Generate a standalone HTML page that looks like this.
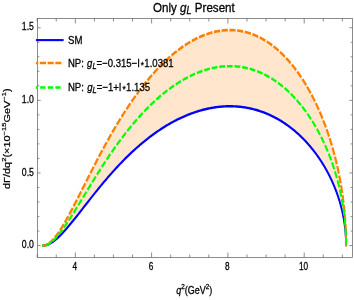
<!DOCTYPE html>
<html><head><meta charset="utf-8"><style>
html,body{margin:0;padding:0;background:#fff;}
svg{display:block;font-family:"Liberation Sans",sans-serif;font-size:11px;fill:#000;}
text{stroke:#000;stroke-width:0.3px;}
.i{font-style:italic}
</style></head><body>
<svg width="354" height="300" viewBox="0 0 354 300">
<rect width="354" height="300" fill="#fff"/>
<path d="M43.14,245.56 L44.66,245.39 L46.17,244.92 L47.68,244.16 L49.18,243.15 L50.68,241.91 L52.18,240.47 L53.68,238.85 L55.17,237.06 L56.65,235.12 L58.13,233.06 L59.61,230.87 L61.09,228.59 L62.56,226.21 L64.03,223.75 L65.49,221.23 L66.95,218.64 L68.40,216.01 L69.86,213.33 L71.30,210.61 L72.75,207.87 L74.19,205.10 L75.63,202.31 L77.06,199.51 L78.49,196.70 L79.91,193.89 L81.34,191.07 L82.75,188.26 L84.17,185.45 L85.58,182.66 L86.98,179.87 L88.39,177.10 L89.78,174.34 L91.18,171.60 L92.57,168.88 L93.96,166.18 L95.34,163.50 L96.72,160.85 L98.10,158.22 L99.47,155.61 L100.84,153.04 L102.20,150.49 L103.56,147.97 L104.92,145.47 L106.27,143.01 L107.62,140.58 L108.97,138.17 L110.31,135.80 L111.65,133.45 L112.98,131.14 L114.31,128.86 L115.64,126.61 L116.96,124.39 L118.28,122.20 L119.59,120.05 L120.90,117.92 L122.21,115.83 L123.51,113.76 L124.81,111.73 L126.11,109.73 L127.40,107.76 L128.69,105.82 L129.97,103.91 L131.25,102.03 L132.53,100.18 L133.80,98.36 L135.07,96.57 L136.34,94.81 L137.60,93.08 L138.86,91.38 L140.11,89.71 L141.36,88.07 L142.61,86.45 L143.85,84.87 L145.09,83.31 L146.33,81.77 L147.56,80.27 L148.78,78.79 L150.01,77.35 L151.23,75.92 L152.44,74.53 L153.66,73.16 L154.86,71.81 L156.07,70.49 L157.27,69.20 L158.47,67.93 L159.66,66.69 L160.85,65.47 L162.03,64.28 L163.22,63.11 L164.39,61.97 L165.57,60.85 L166.74,59.75 L167.91,58.67 L169.07,57.62 L170.23,56.60 L171.38,55.59 L172.53,54.61 L173.68,53.65 L174.82,52.71 L175.96,51.80 L177.10,50.90 L178.23,50.03 L179.36,49.18 L180.49,48.35 L181.61,47.54 L182.72,46.75 L183.84,45.98 L184.95,45.23 L186.05,44.51 L187.15,43.80 L188.25,43.11 L189.35,42.44 L190.44,41.80 L191.52,41.17 L192.61,40.56 L193.68,39.97 L194.76,39.39 L195.83,38.84 L196.90,38.30 L197.96,37.79 L199.02,37.29 L200.08,36.81 L201.13,36.35 L202.18,35.90 L203.22,35.47 L204.26,35.06 L205.30,34.67 L206.34,34.29 L207.36,33.94 L208.39,33.59 L209.41,33.27 L210.43,32.96 L211.44,32.67 L212.46,32.39 L213.46,32.13 L214.46,31.89 L215.46,31.66 L216.46,31.45 L217.45,31.25 L218.44,31.07 L219.42,30.90 L220.40,30.75 L221.38,30.62 L222.35,30.50 L223.32,30.39 L224.28,30.30 L225.24,30.22 L226.20,30.16 L227.16,30.12 L228.10,30.08 L229.05,30.06 L229.99,30.06 L230.93,30.07 L231.87,30.09 L232.80,30.13 L233.72,30.18 L234.65,30.24 L235.56,30.32 L236.48,30.41 L237.39,30.51 L238.30,30.63 L239.20,30.76 L240.10,30.90 L241.00,31.05 L241.89,31.22 L242.78,31.40 L243.67,31.59 L244.55,31.80 L245.42,32.02 L246.30,32.24 L247.17,32.49 L248.03,32.74 L248.89,33.00 L249.75,33.28 L250.61,33.57 L251.46,33.87 L252.30,34.18 L253.15,34.50 L253.99,34.83 L254.82,35.18 L255.65,35.53 L256.48,35.90 L257.31,36.27 L258.13,36.66 L258.94,37.06 L259.75,37.47 L260.56,37.89 L261.37,38.32 L262.17,38.76 L262.97,39.21 L263.76,39.66 L264.55,40.13 L265.34,40.61 L266.12,41.10 L266.90,41.60 L267.67,42.11 L268.44,42.63 L269.21,43.16 L269.97,43.69 L270.73,44.24 L271.49,44.79 L272.24,45.36 L272.99,45.93 L273.73,46.51 L274.47,47.10 L275.21,47.70 L275.94,48.31 L276.67,48.92 L277.39,49.55 L278.11,50.18 L278.83,50.82 L279.54,51.47 L280.25,52.13 L280.96,52.80 L281.66,53.47 L282.36,54.15 L283.06,54.84 L283.75,55.54 L284.43,56.24 L285.12,56.95 L285.80,57.67 L286.47,58.40 L287.14,59.13 L287.81,59.87 L288.48,60.62 L289.14,61.37 L289.79,62.13 L290.44,62.90 L291.09,63.68 L291.74,64.46 L292.38,65.25 L293.02,66.04 L293.65,66.84 L294.28,67.65 L294.91,68.47 L295.53,69.29 L296.15,70.11 L296.76,70.95 L297.37,71.78 L297.98,72.63 L298.58,73.48 L299.18,74.34 L299.78,75.20 L300.37,76.06 L300.96,76.94 L301.54,77.82 L302.12,78.70 L302.70,79.59 L303.27,80.48 L303.84,81.38 L304.41,82.29 L304.97,83.20 L305.53,84.11 L306.08,85.03 L306.63,85.96 L307.18,86.89 L307.72,87.82 L308.26,88.76 L308.79,89.71 L309.32,90.65 L309.85,91.61 L310.37,92.56 L310.89,93.53 L311.41,94.49 L311.92,95.46 L312.43,96.44 L312.93,97.41 L313.43,98.40 L313.93,99.38 L314.42,100.37 L314.91,101.37 L315.40,102.37 L315.88,103.37 L316.36,104.37 L316.83,105.38 L317.30,106.40 L317.77,107.41 L318.23,108.43 L318.69,109.46 L319.14,110.48 L319.59,111.51 L320.04,112.55 L320.48,113.58 L320.92,114.62 L321.36,115.67 L321.79,116.71 L322.22,117.76 L322.64,118.81 L323.06,119.87 L323.48,120.93 L323.89,121.99 L324.30,123.05 L324.71,124.12 L325.11,125.18 L325.51,126.26 L325.90,127.33 L326.29,128.41 L326.68,129.49 L327.06,130.57 L327.44,131.65 L327.81,132.74 L328.18,133.83 L328.55,134.92 L328.91,136.01 L329.27,137.11 L329.63,138.20 L329.98,139.30 L330.33,140.40 L330.67,141.51 L331.02,142.61 L331.35,143.72 L331.69,144.83 L332.01,145.94 L332.34,147.06 L332.66,148.17 L332.98,149.29 L333.29,150.41 L333.60,151.53 L333.91,152.65 L334.21,153.77 L334.51,154.90 L334.81,156.03 L335.10,157.16 L335.38,158.29 L335.67,159.42 L335.95,160.55 L336.22,161.69 L336.50,162.82 L336.76,163.96 L337.03,165.10 L337.29,166.24 L337.55,167.38 L337.80,168.52 L338.05,169.66 L338.29,170.81 L338.54,171.96 L338.77,173.10 L339.01,174.25 L339.24,175.40 L339.46,176.55 L339.69,177.70 L339.91,178.86 L340.12,180.01 L340.33,181.16 L340.54,182.32 L340.74,183.47 L340.94,184.63 L341.14,185.79 L341.33,186.95 L341.52,188.11 L341.70,189.27 L341.89,190.43 L342.06,191.59 L342.24,192.76 L342.40,193.92 L342.57,195.08 L342.73,196.25 L342.89,197.41 L343.04,198.58 L343.19,199.75 L343.34,200.91 L343.48,202.08 L343.62,203.25 L343.76,204.42 L343.89,205.59 L344.02,206.76 L344.14,207.93 L344.26,209.10 L344.38,210.27 L344.49,211.45 L344.60,212.62 L344.70,213.79 L344.80,214.97 L344.90,216.14 L344.99,217.31 L345.08,218.49 L345.17,219.66 L345.25,220.84 L345.33,222.01 L345.40,223.19 L345.47,224.36 L345.54,225.54 L345.60,226.72 L345.66,227.89 L345.72,229.07 L345.77,230.25 L345.81,231.42 L345.86,232.60 L345.90,233.78 L345.93,234.96 L345.97,236.13 L346.00,237.31 L346.02,238.49 L346.04,239.67 L346.06,240.85 L346.07,242.03 L346.08,243.20 L346.09,244.38 L346.09,245.56 L346.09,245.56 L346.09,244.80 L346.08,244.04 L346.07,243.28 L346.06,242.51 L346.04,241.75 L346.02,240.99 L346.00,240.23 L345.97,239.47 L345.93,238.71 L345.90,237.94 L345.86,237.18 L345.81,236.42 L345.77,235.66 L345.72,234.90 L345.66,234.14 L345.60,233.38 L345.54,232.62 L345.47,231.86 L345.40,231.10 L345.33,230.34 L345.25,229.58 L345.17,228.82 L345.08,228.06 L344.99,227.30 L344.90,226.54 L344.80,225.78 L344.70,225.02 L344.60,224.27 L344.49,223.51 L344.38,222.75 L344.26,221.99 L344.14,221.24 L344.02,220.48 L343.89,219.72 L343.76,218.97 L343.62,218.21 L343.48,217.46 L343.34,216.70 L343.19,215.95 L343.04,215.19 L342.89,214.44 L342.73,213.68 L342.57,212.93 L342.40,212.18 L342.24,211.43 L342.06,210.67 L341.89,209.92 L341.70,209.17 L341.52,208.42 L341.33,207.67 L341.14,206.92 L340.94,206.18 L340.74,205.43 L340.54,204.68 L340.33,203.93 L340.12,203.19 L339.91,202.44 L339.69,201.70 L339.46,200.95 L339.24,200.21 L339.01,199.47 L338.77,198.72 L338.54,197.98 L338.29,197.24 L338.05,196.50 L337.80,195.76 L337.55,195.02 L337.29,194.28 L337.03,193.55 L336.76,192.81 L336.50,192.08 L336.22,191.34 L335.95,190.61 L335.67,189.88 L335.38,189.15 L335.10,188.41 L334.81,187.68 L334.51,186.96 L334.21,186.23 L333.91,185.50 L333.60,184.78 L333.29,184.05 L332.98,183.33 L332.66,182.61 L332.34,181.89 L332.01,181.17 L331.69,180.45 L331.35,179.73 L331.02,179.01 L330.67,178.30 L330.33,177.59 L329.98,176.87 L329.63,176.16 L329.27,175.45 L328.91,174.75 L328.55,174.04 L328.18,173.33 L327.81,172.63 L327.44,171.93 L327.06,171.23 L326.68,170.53 L326.29,169.83 L325.90,169.13 L325.51,168.44 L325.11,167.75 L324.71,167.06 L324.30,166.37 L323.89,165.68 L323.48,164.99 L323.06,164.31 L322.64,163.63 L322.22,162.95 L321.79,162.27 L321.36,161.59 L320.92,160.92 L320.48,160.25 L320.04,159.58 L319.59,158.91 L319.14,158.24 L318.69,157.58 L318.23,156.92 L317.77,156.26 L317.30,155.60 L316.83,154.95 L316.36,154.30 L315.88,153.65 L315.40,153.00 L314.91,152.35 L314.42,151.71 L313.93,151.07 L313.43,150.43 L312.93,149.80 L312.43,149.16 L311.92,148.53 L311.41,147.91 L310.89,147.28 L310.37,146.66 L309.85,146.04 L309.32,145.43 L308.79,144.81 L308.26,144.20 L307.72,143.60 L307.18,142.99 L306.63,142.39 L306.08,141.79 L305.53,141.20 L304.97,140.61 L304.41,140.02 L303.84,139.43 L303.27,138.85 L302.70,138.27 L302.12,137.70 L301.54,137.13 L300.96,136.56 L300.37,136.00 L299.78,135.44 L299.18,134.88 L298.58,134.32 L297.98,133.77 L297.37,133.23 L296.76,132.69 L296.15,132.15 L295.53,131.61 L294.91,131.08 L294.28,130.56 L293.65,130.04 L293.02,129.52 L292.38,129.00 L291.74,128.49 L291.09,127.99 L290.44,127.49 L289.79,126.99 L289.14,126.50 L288.48,126.01 L287.81,125.53 L287.14,125.05 L286.47,124.57 L285.80,124.11 L285.12,123.64 L284.43,123.18 L283.75,122.73 L283.06,122.28 L282.36,121.83 L281.66,121.39 L280.96,120.95 L280.25,120.52 L279.54,120.10 L278.83,119.68 L278.11,119.27 L277.39,118.86 L276.67,118.45 L275.94,118.05 L275.21,117.66 L274.47,117.27 L273.73,116.89 L272.99,116.52 L272.24,116.15 L271.49,115.78 L270.73,115.42 L269.97,115.07 L269.21,114.72 L268.44,114.38 L267.67,114.05 L266.90,113.72 L266.12,113.40 L265.34,113.08 L264.55,112.77 L263.76,112.47 L262.97,112.17 L262.17,111.88 L261.37,111.59 L260.56,111.32 L259.75,111.05 L258.94,110.78 L258.13,110.53 L257.31,110.27 L256.48,110.03 L255.65,109.79 L254.82,109.56 L253.99,109.34 L253.15,109.13 L252.30,108.92 L251.46,108.72 L250.61,108.52 L249.75,108.34 L248.89,108.16 L248.03,107.99 L247.17,107.83 L246.30,107.67 L245.42,107.52 L244.55,107.38 L243.67,107.25 L242.78,107.13 L241.89,107.01 L241.00,106.90 L240.10,106.80 L239.20,106.71 L238.30,106.63 L237.39,106.55 L236.48,106.48 L235.56,106.42 L234.65,106.38 L233.72,106.33 L232.80,106.30 L231.87,106.28 L230.93,106.26 L229.99,106.26 L229.05,106.26 L228.10,106.27 L227.16,106.29 L226.20,106.32 L225.24,106.36 L224.28,106.41 L223.32,106.47 L222.35,106.54 L221.38,106.62 L220.40,106.71 L219.42,106.80 L218.44,106.91 L217.45,107.03 L216.46,107.16 L215.46,107.29 L214.46,107.44 L213.46,107.60 L212.46,107.77 L211.44,107.94 L210.43,108.13 L209.41,108.33 L208.39,108.54 L207.36,108.76 L206.34,109.00 L205.30,109.24 L204.26,109.49 L203.22,109.76 L202.18,110.03 L201.13,110.32 L200.08,110.62 L199.02,110.93 L197.96,111.25 L196.90,111.59 L195.83,111.93 L194.76,112.29 L193.68,112.66 L192.61,113.04 L191.52,113.44 L190.44,113.84 L189.35,114.26 L188.25,114.70 L187.15,115.14 L186.05,115.60 L184.95,116.07 L183.84,116.55 L182.72,117.05 L181.61,117.56 L180.49,118.08 L179.36,118.62 L178.23,119.17 L177.10,119.73 L175.96,120.31 L174.82,120.90 L173.68,121.51 L172.53,122.13 L171.38,122.76 L170.23,123.41 L169.07,124.08 L167.91,124.75 L166.74,125.45 L165.57,126.16 L164.39,126.88 L163.22,127.62 L162.03,128.38 L160.85,129.15 L159.66,129.94 L158.47,130.74 L157.27,131.56 L156.07,132.39 L154.86,133.25 L153.66,134.12 L152.44,135.00 L151.23,135.90 L150.01,136.82 L148.78,137.76 L147.56,138.72 L146.33,139.69 L145.09,140.68 L143.85,141.68 L142.61,142.71 L141.36,143.75 L140.11,144.82 L138.86,145.90 L137.60,147.00 L136.34,148.12 L135.07,149.25 L133.80,150.41 L132.53,151.59 L131.25,152.78 L129.97,154.00 L128.69,155.23 L127.40,156.48 L126.11,157.76 L124.81,159.05 L123.51,160.36 L122.21,161.70 L120.90,163.05 L119.59,164.43 L118.28,165.82 L116.96,167.23 L115.64,168.67 L114.31,170.12 L112.98,171.60 L111.65,173.09 L110.31,174.61 L108.97,176.14 L107.62,177.70 L106.27,179.27 L104.92,180.86 L103.56,182.47 L102.20,184.10 L100.84,185.75 L99.47,187.42 L98.10,189.10 L96.72,190.80 L95.34,192.52 L93.96,194.25 L92.57,195.99 L91.18,197.75 L89.78,199.52 L88.39,201.30 L86.98,203.10 L85.58,204.90 L84.17,206.71 L82.75,208.52 L81.34,210.34 L79.91,212.16 L78.49,213.98 L77.06,215.79 L75.63,217.60 L74.19,219.41 L72.75,221.20 L71.30,222.97 L69.86,224.73 L68.40,226.46 L66.95,228.16 L65.49,229.83 L64.03,231.46 L62.56,233.05 L61.09,234.59 L59.61,236.07 L58.13,237.48 L56.65,238.81 L55.17,240.06 L53.68,241.22 L52.18,242.27 L50.68,243.20 L49.18,244.00 L47.68,244.66 L46.17,245.14 L44.66,245.45 L43.14,245.56Z" fill="#FFE6CC" stroke="none"/>
<g transform="scale(0.79,1)">
<path d="M53.67,245.56 L54.61,245.56 L56.53,245.45 L58.44,245.14 L60.35,244.66 L62.26,244.00 L64.16,243.20 L66.05,242.27 L67.94,241.22 L69.83,240.06 L71.71,238.81 L73.59,237.48 L75.46,236.07 L77.33,234.59 L79.19,233.05 L81.05,231.46 L82.90,229.83 L84.75,228.16 L86.59,226.46 L88.43,224.73 L90.26,222.97 L92.09,221.20 L93.91,219.41 L95.73,217.60 L97.54,215.79 L99.35,213.98 L101.16,212.16 L102.96,210.34 L104.75,208.52 L106.54,206.71 L108.33,204.90 L110.11,203.10 L111.88,201.30 L113.65,199.52 L115.42,197.75 L117.18,195.99 L118.93,194.25 L120.68,192.52 L122.43,190.80 L124.17,189.10 L125.91,187.42 L127.64,185.75 L129.37,184.10 L131.09,182.47 L132.81,180.86 L134.52,179.27 L136.23,177.70 L137.93,176.14 L139.63,174.61 L141.32,173.09 L143.01,171.60 L144.70,170.12 L146.37,168.67 L148.05,167.23 L149.72,165.82 L151.38,164.43 L153.04,163.05 L154.70,161.70 L156.35,160.36 L157.99,159.05 L159.63,157.76 L161.27,156.48 L162.90,155.23 L164.52,154.00 L166.15,152.78 L167.76,151.59 L169.37,150.41 L170.98,149.25 L172.58,148.12 L174.18,147.00 L175.77,145.90 L177.36,144.82 L178.94,143.75 L180.52,142.71 L182.09,141.68 L183.66,140.68 L185.22,139.69 L186.78,138.72 L188.34,137.76 L189.88,136.82 L191.43,135.90 L192.97,135.00 L194.50,134.12 L196.03,133.25 L197.56,132.39 L199.08,131.56 L200.59,130.74 L202.10,129.94 L203.61,129.15 L205.11,128.38 L206.60,127.62 L208.09,126.88 L209.58,126.16 L211.06,125.45 L212.54,124.75 L214.01,124.08 L215.48,123.41 L216.94,122.76 L218.40,122.13 L219.85,121.51 L221.30,120.90 L222.74,120.31 L224.18,119.73 L225.61,119.17 L227.04,118.62 L228.46,118.08 L229.88,117.56 L231.30,117.05 L232.70,116.55 L234.11,116.07 L235.51,115.60 L236.90,115.14 L238.29,114.70 L239.68,114.26 L241.06,113.84 L242.43,113.44 L243.80,113.04 L245.17,112.66 L246.53,112.29 L247.89,111.93 L249.24,111.59 L250.59,111.25 L251.93,110.93 L253.26,110.62 L254.60,110.32 L255.92,110.03 L257.25,109.76 L258.56,109.49 L259.88,109.24 L261.18,109.00 L262.49,108.76 L263.79,108.54 L265.08,108.33 L266.37,108.13 L267.65,107.94 L268.93,107.77 L270.20,107.60 L271.47,107.44 L272.74,107.29 L274.00,107.16 L275.25,107.03 L276.50,106.91 L277.75,106.80 L278.99,106.71 L280.23,106.62 L281.46,106.54 L282.68,106.47 L283.90,106.41 L285.12,106.36 L286.33,106.32 L287.54,106.29 L288.74,106.27 L289.94,106.26 L291.13,106.26 L292.32,106.26 L293.50,106.28 L294.68,106.30 L295.85,106.33 L297.02,106.38 L298.18,106.42 L299.34,106.48 L300.50,106.55 L301.64,106.63 L302.79,106.71 L303.93,106.80 L305.06,106.90 L306.19,107.01 L307.32,107.13 L308.44,107.25 L309.55,107.38 L310.66,107.52 L311.77,107.67 L312.87,107.83 L313.97,107.99 L315.06,108.16 L316.14,108.34 L317.22,108.52 L318.30,108.72 L319.37,108.92 L320.44,109.13 L321.50,109.34 L322.56,109.56 L323.61,109.79 L324.66,110.03 L325.70,110.27 L326.74,110.53 L327.77,110.78 L328.80,111.05 L329.83,111.32 L330.85,111.59 L331.86,111.88 L332.87,112.17 L333.87,112.47 L334.87,112.77 L335.87,113.08 L336.86,113.40 L337.84,113.72 L338.82,114.05 L339.80,114.38 L340.77,114.72 L341.74,115.07 L342.70,115.42 L343.65,115.78 L344.60,116.15 L345.55,116.52 L346.49,116.89 L347.43,117.27 L348.36,117.66 L349.29,118.05 L350.21,118.45 L351.13,118.86 L352.04,119.27 L352.95,119.68 L353.85,120.10 L354.75,120.52 L355.65,120.95 L356.54,121.39 L357.42,121.83 L358.30,122.28 L359.17,122.73 L360.04,123.18 L360.91,123.64 L361.77,124.11 L362.62,124.57 L363.47,125.05 L364.32,125.53 L365.16,126.01 L365.99,126.50 L366.83,126.99 L367.65,127.49 L368.47,127.99 L369.29,128.49 L370.10,129.00 L370.91,129.52 L371.71,130.04 L372.51,130.56 L373.30,131.08 L374.09,131.61 L374.87,132.15 L375.65,132.69 L376.42,133.23 L377.19,133.77 L377.95,134.32 L378.71,134.88 L379.47,135.44 L380.22,136.00 L380.96,136.56 L381.70,137.13 L382.43,137.70 L383.16,138.27 L383.89,138.85 L384.61,139.43 L385.33,140.02 L386.04,140.61 L386.74,141.20 L387.44,141.79 L388.14,142.39 L388.83,142.99 L389.52,143.60 L390.20,144.20 L390.87,144.81 L391.55,145.43 L392.21,146.04 L392.88,146.66 L393.53,147.28 L394.19,147.91 L394.83,148.53 L395.48,149.16 L396.12,149.80 L396.75,150.43 L397.38,151.07 L398.00,151.71 L398.62,152.35 L399.24,153.00 L399.85,153.65 L400.45,154.30 L401.05,154.95 L401.64,155.60 L402.23,156.26 L402.82,156.92 L403.40,157.58 L403.98,158.24 L404.55,158.91 L405.11,159.58 L405.67,160.25 L406.23,160.92 L406.78,161.59 L407.33,162.27 L407.87,162.95 L408.41,163.63 L408.94,164.31 L409.47,164.99 L409.99,165.68 L410.51,166.37 L411.02,167.06 L411.53,167.75 L412.03,168.44 L412.53,169.13 L413.03,169.83 L413.52,170.53 L414.00,171.23 L414.48,171.93 L414.95,172.63 L415.42,173.33 L415.89,174.04 L416.35,174.75 L416.80,175.45 L417.25,176.16 L417.70,176.87 L418.14,177.59 L418.58,178.30 L419.01,179.01 L419.43,179.73 L419.85,180.45 L420.27,181.17 L420.68,181.89 L421.09,182.61 L421.49,183.33 L421.89,184.05 L422.28,184.78 L422.67,185.50 L423.05,186.23 L423.43,186.96 L423.81,187.68 L424.17,188.41 L424.54,189.15 L424.90,189.88 L425.25,190.61 L425.60,191.34 L425.94,192.08 L426.28,192.81 L426.62,193.55 L426.95,194.28 L427.27,195.02 L427.59,195.76 L427.91,196.50 L428.22,197.24 L428.53,197.98 L428.83,198.72 L429.12,199.47 L429.42,200.21 L429.70,200.95 L429.98,201.70 L430.26,202.44 L430.53,203.19 L430.80,203.93 L431.06,204.68 L431.32,205.43 L431.57,206.18 L431.82,206.92 L432.07,207.67 L432.30,208.42 L432.54,209.17 L432.77,209.92 L432.99,210.67 L433.21,211.43 L433.42,212.18 L433.63,212.93 L433.84,213.68 L434.04,214.44 L434.23,215.19 L434.42,215.95 L434.61,216.70 L434.79,217.46 L434.97,218.21 L435.14,218.97 L435.30,219.72 L435.46,220.48 L435.62,221.24 L435.77,221.99 L435.92,222.75 L436.06,223.51 L436.20,224.27 L436.33,225.02 L436.46,225.78 L436.58,226.54 L436.70,227.30 L436.81,228.06 L436.92,228.82 L437.02,229.58 L437.12,230.34 L437.22,231.10 L437.31,231.86 L437.39,232.62 L437.47,233.38 L437.54,234.14 L437.61,234.90 L437.68,235.66 L437.74,236.42 L437.80,237.18 L437.85,237.94 L437.89,238.71 L437.93,239.47 L437.97,240.23 L438.00,240.99 L438.03,241.75 L438.05,242.51 L438.07,243.28 L438.08,244.04 L438.08,244.80 L438.09,245.56 L438.09,246.36" fill="none" stroke="#0000FF" stroke-width="2.4" stroke-linejoin="round"/>
<path d="M53.67,245.56 L54.61,245.56 L56.53,245.39 L58.44,244.92 L60.35,244.16 L62.26,243.15 L64.16,241.91 L66.05,240.47 L67.94,238.85 L69.83,237.06 L71.71,235.12 L73.59,233.06 L75.46,230.87 L77.33,228.59 L79.19,226.21 L81.05,223.75 L82.90,221.23 L84.75,218.64 L86.59,216.01 L88.43,213.33 L90.26,210.61 L92.09,207.87 L93.91,205.10 L95.73,202.31 L97.54,199.51 L99.35,196.70 L101.16,193.89 L102.96,191.07 L104.75,188.26 L106.54,185.45 L108.33,182.66 L110.11,179.87 L111.88,177.10 L113.65,174.34 L115.42,171.60 L117.18,168.88 L118.93,166.18 L120.68,163.50 L122.43,160.85 L124.17,158.22 L125.91,155.61 L127.64,153.04 L129.37,150.49 L131.09,147.97 L132.81,145.47 L134.52,143.01 L136.23,140.58 L137.93,138.17 L139.63,135.80 L141.32,133.45 L143.01,131.14 L144.70,128.86 L146.37,126.61 L148.05,124.39 L149.72,122.20 L151.38,120.05 L153.04,117.92 L154.70,115.83 L156.35,113.76 L157.99,111.73 L159.63,109.73 L161.27,107.76 L162.90,105.82 L164.52,103.91 L166.15,102.03 L167.76,100.18 L169.37,98.36 L170.98,96.57 L172.58,94.81 L174.18,93.08 L175.77,91.38 L177.36,89.71 L178.94,88.07 L180.52,86.45 L182.09,84.87 L183.66,83.31 L185.22,81.77 L186.78,80.27 L188.34,78.79 L189.88,77.35 L191.43,75.92 L192.97,74.53 L194.50,73.16 L196.03,71.81 L197.56,70.49 L199.08,69.20 L200.59,67.93 L202.10,66.69 L203.61,65.47 L205.11,64.28 L206.60,63.11 L208.09,61.97 L209.58,60.85 L211.06,59.75 L212.54,58.67 L214.01,57.62 L215.48,56.60 L216.94,55.59 L218.40,54.61 L219.85,53.65 L221.30,52.71 L222.74,51.80 L224.18,50.90 L225.61,50.03 L227.04,49.18 L228.46,48.35 L229.88,47.54 L231.30,46.75 L232.70,45.98 L234.11,45.23 L235.51,44.51 L236.90,43.80 L238.29,43.11 L239.68,42.44 L241.06,41.80 L242.43,41.17 L243.80,40.56 L245.17,39.97 L246.53,39.39 L247.89,38.84 L249.24,38.30 L250.59,37.79 L251.93,37.29 L253.26,36.81 L254.60,36.35 L255.92,35.90 L257.25,35.47 L258.56,35.06 L259.88,34.67 L261.18,34.29 L262.49,33.94 L263.79,33.59 L265.08,33.27 L266.37,32.96 L267.65,32.67 L268.93,32.39 L270.20,32.13 L271.47,31.89 L272.74,31.66 L274.00,31.45 L275.25,31.25 L276.50,31.07 L277.75,30.90 L278.99,30.75 L280.23,30.62 L281.46,30.50 L282.68,30.39 L283.90,30.30 L285.12,30.22 L286.33,30.16 L287.54,30.12 L288.74,30.08 L289.94,30.06 L291.13,30.06 L292.32,30.07 L293.50,30.09 L294.68,30.13 L295.85,30.18 L297.02,30.24 L298.18,30.32 L299.34,30.41 L300.50,30.51 L301.64,30.63 L302.79,30.76 L303.93,30.90 L305.06,31.05 L306.19,31.22 L307.32,31.40 L308.44,31.59 L309.55,31.80 L310.66,32.02 L311.77,32.24 L312.87,32.49 L313.97,32.74 L315.06,33.00 L316.14,33.28 L317.22,33.57 L318.30,33.87 L319.37,34.18 L320.44,34.50 L321.50,34.83 L322.56,35.18 L323.61,35.53 L324.66,35.90 L325.70,36.27 L326.74,36.66 L327.77,37.06 L328.80,37.47 L329.83,37.89 L330.85,38.32 L331.86,38.76 L332.87,39.21 L333.87,39.66 L334.87,40.13 L335.87,40.61 L336.86,41.10 L337.84,41.60 L338.82,42.11 L339.80,42.63 L340.77,43.16 L341.74,43.69 L342.70,44.24 L343.65,44.79 L344.60,45.36 L345.55,45.93 L346.49,46.51 L347.43,47.10 L348.36,47.70 L349.29,48.31 L350.21,48.92 L351.13,49.55 L352.04,50.18 L352.95,50.82 L353.85,51.47 L354.75,52.13 L355.65,52.80 L356.54,53.47 L357.42,54.15 L358.30,54.84 L359.17,55.54 L360.04,56.24 L360.91,56.95 L361.77,57.67 L362.62,58.40 L363.47,59.13 L364.32,59.87 L365.16,60.62 L365.99,61.37 L366.83,62.13 L367.65,62.90 L368.47,63.68 L369.29,64.46 L370.10,65.25 L370.91,66.04 L371.71,66.84 L372.51,67.65 L373.30,68.47 L374.09,69.29 L374.87,70.11 L375.65,70.95 L376.42,71.78 L377.19,72.63 L377.95,73.48 L378.71,74.34 L379.47,75.20 L380.22,76.06 L380.96,76.94 L381.70,77.82 L382.43,78.70 L383.16,79.59 L383.89,80.48 L384.61,81.38 L385.33,82.29 L386.04,83.20 L386.74,84.11 L387.44,85.03 L388.14,85.96 L388.83,86.89 L389.52,87.82 L390.20,88.76 L390.87,89.71 L391.55,90.65 L392.21,91.61 L392.88,92.56 L393.53,93.53 L394.19,94.49 L394.83,95.46 L395.48,96.44 L396.12,97.41 L396.75,98.40 L397.38,99.38 L398.00,100.37 L398.62,101.37 L399.24,102.37 L399.85,103.37 L400.45,104.37 L401.05,105.38 L401.64,106.40 L402.23,107.41 L402.82,108.43 L403.40,109.46 L403.98,110.48 L404.55,111.51 L405.11,112.55 L405.67,113.58 L406.23,114.62 L406.78,115.67 L407.33,116.71 L407.87,117.76 L408.41,118.81 L408.94,119.87 L409.47,120.93 L409.99,121.99 L410.51,123.05 L411.02,124.12 L411.53,125.18 L412.03,126.26 L412.53,127.33 L413.03,128.41 L413.52,129.49 L414.00,130.57 L414.48,131.65 L414.95,132.74 L415.42,133.83 L415.89,134.92 L416.35,136.01 L416.80,137.11 L417.25,138.20 L417.70,139.30 L418.14,140.40 L418.58,141.51 L419.01,142.61 L419.43,143.72 L419.85,144.83 L420.27,145.94 L420.68,147.06 L421.09,148.17 L421.49,149.29 L421.89,150.41 L422.28,151.53 L422.67,152.65 L423.05,153.77 L423.43,154.90 L423.81,156.03 L424.17,157.16 L424.54,158.29 L424.90,159.42 L425.25,160.55 L425.60,161.69 L425.94,162.82 L426.28,163.96 L426.62,165.10 L426.95,166.24 L427.27,167.38 L427.59,168.52 L427.91,169.66 L428.22,170.81 L428.53,171.96 L428.83,173.10 L429.12,174.25 L429.42,175.40 L429.70,176.55 L429.98,177.70 L430.26,178.86 L430.53,180.01 L430.80,181.16 L431.06,182.32 L431.32,183.47 L431.57,184.63 L431.82,185.79 L432.07,186.95 L432.30,188.11 L432.54,189.27 L432.77,190.43 L432.99,191.59 L433.21,192.76 L433.42,193.92 L433.63,195.08 L433.84,196.25 L434.04,197.41 L434.23,198.58 L434.42,199.75 L434.61,200.91 L434.79,202.08 L434.97,203.25 L435.14,204.42 L435.30,205.59 L435.46,206.76 L435.62,207.93 L435.77,209.10 L435.92,210.27 L436.06,211.45 L436.20,212.62 L436.33,213.79 L436.46,214.97 L436.58,216.14 L436.70,217.31 L436.81,218.49 L436.92,219.66 L437.02,220.84 L437.12,222.01 L437.22,223.19 L437.31,224.36 L437.39,225.54 L437.47,226.72 L437.54,227.89 L437.61,229.07 L437.68,230.25 L437.74,231.42 L437.80,232.60 L437.85,233.78 L437.89,234.96 L437.93,236.13 L437.97,237.31 L438.00,238.49 L438.03,239.67 L438.05,240.85 L438.07,242.03 L438.08,243.20 L438.08,244.38 L438.09,245.56 L438.09,246.36" fill="none" stroke="#FF8000" stroke-width="2.7" stroke-dasharray="7.79 2.045" stroke-dashoffset="1.6" stroke-linejoin="round"/>
<path d="M53.67,245.56 L54.61,245.56 L56.53,245.42 L58.44,245.03 L60.35,244.40 L62.26,243.55 L64.16,242.53 L66.05,241.32 L67.94,239.97 L69.83,238.48 L71.71,236.87 L73.59,235.15 L75.46,233.33 L77.33,231.43 L79.19,229.45 L81.05,227.41 L82.90,225.30 L84.75,223.15 L86.59,220.96 L88.43,218.72 L90.26,216.46 L92.09,214.18 L93.91,211.87 L95.73,209.55 L97.54,207.22 L99.35,204.88 L101.16,202.54 L102.96,200.19 L104.75,197.85 L106.54,195.52 L108.33,193.19 L110.11,190.87 L111.88,188.56 L113.65,186.26 L115.42,183.98 L117.18,181.72 L118.93,179.47 L120.68,177.24 L122.43,175.03 L124.17,172.84 L125.91,170.67 L127.64,168.53 L129.37,166.41 L131.09,164.31 L132.81,162.23 L134.52,160.18 L136.23,158.15 L137.93,156.15 L139.63,154.17 L141.32,152.22 L143.01,150.30 L144.70,148.40 L146.37,146.52 L148.05,144.68 L149.72,142.86 L151.38,141.06 L153.04,139.29 L154.70,137.55 L156.35,135.83 L157.99,134.14 L159.63,132.47 L161.27,130.83 L162.90,129.21 L164.52,127.62 L166.15,126.06 L167.76,124.52 L169.37,123.01 L170.98,121.52 L172.58,120.05 L174.18,118.61 L175.77,117.20 L177.36,115.80 L178.94,114.43 L180.52,113.09 L182.09,111.77 L183.66,110.47 L185.22,109.20 L186.78,107.94 L188.34,106.71 L189.88,105.51 L191.43,104.32 L192.97,103.16 L194.50,102.02 L196.03,100.90 L197.56,99.80 L199.08,98.73 L200.59,97.67 L202.10,96.64 L203.61,95.62 L205.11,94.63 L206.60,93.66 L208.09,92.70 L209.58,91.77 L211.06,90.86 L212.54,89.96 L214.01,89.09 L215.48,88.23 L216.94,87.40 L218.40,86.58 L219.85,85.78 L221.30,85.00 L222.74,84.24 L224.18,83.49 L225.61,82.76 L227.04,82.06 L228.46,81.37 L229.88,80.69 L231.30,80.03 L232.70,79.40 L234.11,78.77 L235.51,78.17 L236.90,77.58 L238.29,77.01 L239.68,76.45 L241.06,75.91 L242.43,75.39 L243.80,74.88 L245.17,74.39 L246.53,73.91 L247.89,73.45 L249.24,73.00 L250.59,72.57 L251.93,72.16 L253.26,71.76 L254.60,71.37 L255.92,71.00 L257.25,70.65 L258.56,70.30 L259.88,69.98 L261.18,69.67 L262.49,69.37 L263.79,69.08 L265.08,68.81 L266.37,68.55 L267.65,68.31 L268.93,68.08 L270.20,67.86 L271.47,67.66 L272.74,67.47 L274.00,67.29 L275.25,67.13 L276.50,66.98 L277.75,66.84 L278.99,66.72 L280.23,66.60 L281.46,66.50 L282.68,66.42 L283.90,66.34 L285.12,66.28 L286.33,66.22 L287.54,66.19 L288.74,66.16 L289.94,66.14 L291.13,66.14 L292.32,66.15 L293.50,66.16 L294.68,66.20 L295.85,66.24 L297.02,66.29 L298.18,66.35 L299.34,66.43 L300.50,66.52 L301.64,66.61 L302.79,66.72 L303.93,66.84 L305.06,66.97 L306.19,67.11 L307.32,67.26 L308.44,67.42 L309.55,67.59 L310.66,67.77 L311.77,67.96 L312.87,68.16 L313.97,68.37 L315.06,68.59 L316.14,68.82 L317.22,69.06 L318.30,69.31 L319.37,69.57 L320.44,69.83 L321.50,70.11 L322.56,70.40 L323.61,70.69 L324.66,71.00 L325.70,71.31 L326.74,71.64 L327.77,71.97 L328.80,72.31 L329.83,72.66 L330.85,73.01 L331.86,73.38 L332.87,73.75 L333.87,74.14 L334.87,74.53 L335.87,74.93 L336.86,75.33 L337.84,75.75 L338.82,76.17 L339.80,76.60 L340.77,77.04 L341.74,77.49 L342.70,77.94 L343.65,78.41 L344.60,78.88 L345.55,79.35 L346.49,79.84 L347.43,80.33 L348.36,80.83 L349.29,81.33 L350.21,81.85 L351.13,82.37 L352.04,82.89 L352.95,83.43 L353.85,83.97 L354.75,84.51 L355.65,85.07 L356.54,85.63 L357.42,86.20 L358.30,86.77 L359.17,87.35 L360.04,87.94 L360.91,88.53 L361.77,89.13 L362.62,89.73 L363.47,90.34 L364.32,90.96 L365.16,91.58 L365.99,92.21 L366.83,92.84 L367.65,93.48 L368.47,94.13 L369.29,94.78 L370.10,95.44 L370.91,96.10 L371.71,96.76 L372.51,97.44 L373.30,98.12 L374.09,98.80 L374.87,99.49 L375.65,100.18 L376.42,100.88 L377.19,101.58 L377.95,102.29 L378.71,103.00 L379.47,103.72 L380.22,104.44 L380.96,105.17 L381.70,105.90 L382.43,106.64 L383.16,107.38 L383.89,108.12 L384.61,108.87 L385.33,109.62 L386.04,110.38 L386.74,111.14 L387.44,111.91 L388.14,112.68 L388.83,113.45 L389.52,114.23 L390.20,115.01 L390.87,115.80 L391.55,116.59 L392.21,117.38 L392.88,118.18 L393.53,118.98 L394.19,119.78 L394.83,120.59 L395.48,121.40 L396.12,122.22 L396.75,123.04 L397.38,123.86 L398.00,124.68 L398.62,125.51 L399.24,126.34 L399.85,127.17 L400.45,128.01 L401.05,128.85 L401.64,129.70 L402.23,130.54 L402.82,131.39 L403.40,132.24 L403.98,133.10 L404.55,133.96 L405.11,134.82 L405.67,135.68 L406.23,136.54 L406.78,137.41 L407.33,138.28 L407.87,139.16 L408.41,140.03 L408.94,140.91 L409.47,141.79 L409.99,142.67 L410.51,143.56 L411.02,144.45 L411.53,145.34 L412.03,146.23 L412.53,147.12 L413.03,148.02 L413.52,148.92 L414.00,149.82 L414.48,150.72 L414.95,151.63 L415.42,152.53 L415.89,153.44 L416.35,154.35 L416.80,155.26 L417.25,156.18 L417.70,157.09 L418.14,158.01 L418.58,158.93 L419.01,159.85 L419.43,160.77 L419.85,161.70 L420.27,162.62 L420.68,163.55 L421.09,164.48 L421.49,165.41 L421.89,166.34 L422.28,167.27 L422.67,168.21 L423.05,169.14 L423.43,170.08 L423.81,171.02 L424.17,171.96 L424.54,172.90 L424.90,173.84 L425.25,174.78 L425.60,175.73 L425.94,176.67 L426.28,177.62 L426.62,178.57 L426.95,179.52 L427.27,180.47 L427.59,181.42 L427.91,182.37 L428.22,183.32 L428.53,184.28 L428.83,185.23 L429.12,186.19 L429.42,187.15 L429.70,188.10 L429.98,189.06 L430.26,190.02 L430.53,190.98 L430.80,191.94 L431.06,192.91 L431.32,193.87 L431.57,194.83 L431.82,195.80 L432.07,196.76 L432.30,197.73 L432.54,198.69 L432.77,199.66 L432.99,200.63 L433.21,201.60 L433.42,202.57 L433.63,203.53 L433.84,204.50 L434.04,205.47 L434.23,206.45 L434.42,207.42 L434.61,208.39 L434.79,209.36 L434.97,210.33 L435.14,211.31 L435.30,212.28 L435.46,213.26 L435.62,214.23 L435.77,215.21 L435.92,216.18 L436.06,217.16 L436.20,218.13 L436.33,219.11 L436.46,220.09 L436.58,221.06 L436.70,222.04 L436.81,223.02 L436.92,224.00 L437.02,224.98 L437.12,225.95 L437.22,226.93 L437.31,227.91 L437.39,228.89 L437.47,229.87 L437.54,230.85 L437.61,231.83 L437.68,232.81 L437.74,233.79 L437.80,234.77 L437.85,235.75 L437.89,236.73 L437.93,237.71 L437.97,238.69 L438.00,239.67 L438.03,240.66 L438.05,241.64 L438.07,242.62 L438.08,243.60 L438.08,244.58 L438.09,245.56 L438.09,246.36" fill="none" stroke="#00FF00" stroke-width="2.5" stroke-dasharray="7.28 2.40" stroke-dashoffset="5.36" stroke-linejoin="round"/>
</g>
<rect x="37.5" y="18.5" width="315.0" height="239.0" fill="none" stroke="#5c5c5c" stroke-width="0.7"/>
<path d="M37.15,257.5v-3.0M37.15,18.5v3.0M56.22,257.5v-3.0M56.22,18.5v3.0M75.30,257.5v-5.0M75.30,18.5v5.0M94.38,257.5v-3.0M94.38,18.5v3.0M113.45,257.5v-3.0M113.45,18.5v3.0M132.52,257.5v-3.0M132.52,18.5v3.0M151.60,257.5v-5.0M151.60,18.5v5.0M170.68,257.5v-3.0M170.68,18.5v3.0M189.75,257.5v-3.0M189.75,18.5v3.0M208.82,257.5v-3.0M208.82,18.5v3.0M227.90,257.5v-5.0M227.90,18.5v5.0M246.97,257.5v-3.0M246.97,18.5v3.0M266.05,257.5v-3.0M266.05,18.5v3.0M285.12,257.5v-3.0M285.12,18.5v3.0M304.20,257.5v-5.0M304.20,18.5v5.0M323.27,257.5v-3.0M323.27,18.5v3.0M342.35,257.5v-3.0M342.35,18.5v3.0M37.5,245.56h3.1M352.5,245.56h-3.1M37.5,231.04h1.9M352.5,231.04h-1.9M37.5,216.52h1.9M352.5,216.52h-1.9M37.5,202.00h1.9M352.5,202.00h-1.9M37.5,187.48h1.9M352.5,187.48h-1.9M37.5,172.96h3.1M352.5,172.96h-3.1M37.5,158.44h1.9M352.5,158.44h-1.9M37.5,143.92h1.9M352.5,143.92h-1.9M37.5,129.40h1.9M352.5,129.40h-1.9M37.5,114.88h1.9M352.5,114.88h-1.9M37.5,100.36h3.1M352.5,100.36h-3.1M37.5,85.84h1.9M352.5,85.84h-1.9M37.5,71.32h1.9M352.5,71.32h-1.9M37.5,56.80h1.9M352.5,56.80h-1.9M37.5,42.28h1.9M352.5,42.28h-1.9M37.5,27.76h3.1M352.5,27.76h-3.1" stroke="#5c5c5c" stroke-width="0.7" fill="none"/>
<path d="M35.9,40.1H63.6" stroke="#0000FF" stroke-width="2.1"/>
<path d="M35.9,63H62.8" stroke="#FF8000" stroke-width="2.6" stroke-dasharray="6.1 1.6" stroke-dashoffset="3.7"/>
<path d="M35.9,87.5H62.8" stroke="#00FF00" stroke-width="2.6" stroke-dasharray="5.2 2.4" stroke-dashoffset="3.3"/>
<g style="filter:grayscale(1)">
<g transform="translate(153.0,12.0) scale(0.8933,1)"><text id="title" font-size="13">Only <tspan class="i">g</tspan><tspan class="i" font-size="78%" dy="2.1">L</tspan><tspan dy="-2.1">&#8203;</tspan> Present</text></g>
<g transform="translate(68.0,44.1) scale(0.8348,1)"><text id="l1" font-size="11.5">SM</text></g>
<g transform="translate(67.9,66.8) scale(0.8691,1)"><text id="l2" font-size="11">NP: <tspan class="i" dx="0.7">g</tspan><tspan class="i" font-size="78%" dy="2.1">L</tspan><tspan dy="-2.1">&#8203;</tspan>=−0.315−I<tspan font-size="9.5" dy="1.3" dx="1">*</tspan><tspan dy="-1.3" dx="0.5">&#8203;</tspan>1.0381</text></g>
<g transform="translate(67.9,91.1) scale(0.8737,1)"><text id="l3" font-size="11">NP: <tspan class="i" dx="0.7">g</tspan><tspan class="i" font-size="78%" dy="2.1">L</tspan><tspan dy="-2.1">&#8203;</tspan>=−1+I<tspan font-size="9.5" dy="1.3" dx="1">*</tspan><tspan dy="-1.3" dx="0.5">&#8203;</tspan>1.135</text></g>
<g transform="translate(176.2,293.7) scale(0.7832,1)"><text id="xlab" font-size="11.5"><tspan class="i">q</tspan><tspan font-size="70%" dy="-5.0">2</tspan><tspan dy="5.0">&#8203;</tspan>(GeV<tspan font-size="70%" dy="-5.0">2</tspan><tspan dy="5.0">&#8203;</tspan>)</text></g>
<g transform="translate(74.70,270.20) scale(0.75,1)"><text id="x4" font-size="11" text-anchor="middle">4</text></g>
<g transform="translate(151.00,270.20) scale(0.75,1)"><text id="x6" font-size="11" text-anchor="middle">6</text></g>
<g transform="translate(227.30,270.20) scale(0.75,1)"><text id="x8" font-size="11" text-anchor="middle">8</text></g>
<g transform="translate(303.60,270.20) scale(0.75,1)"><text id="x10" font-size="11" text-anchor="middle">10</text></g>
<g transform="translate(33.90,248.26) scale(0.79,1)"><text id="y0" font-size="11" text-anchor="end">0.0</text></g>
<g transform="translate(33.90,175.66) scale(0.79,1)"><text id="y5" font-size="11" text-anchor="end">0.5</text></g>
<g transform="translate(33.90,103.06) scale(0.79,1)"><text id="y10" font-size="11" text-anchor="end">1.0</text></g>
<g transform="translate(33.90,30.46) scale(0.79,1)"><text id="y15" font-size="11" text-anchor="end">1.5</text></g>
<g transform="translate(10,138.7) scale(0.77,1) rotate(-90) scale(0.9917,1)"><text id="ylab" font-size="11" text-anchor="middle">dΓ/dq<tspan font-size="70%" dy="-5.8">2</tspan><tspan dy="5.8">&#8203;</tspan>(×10<tspan font-size="70%" dy="-5.8">−15</tspan><tspan dy="5.8">&#8203;</tspan>GeV<tspan font-size="70%" dy="-5.8">−1</tspan><tspan dy="5.8">&#8203;</tspan>)</text></g>
</g>
</svg>
</body></html>
